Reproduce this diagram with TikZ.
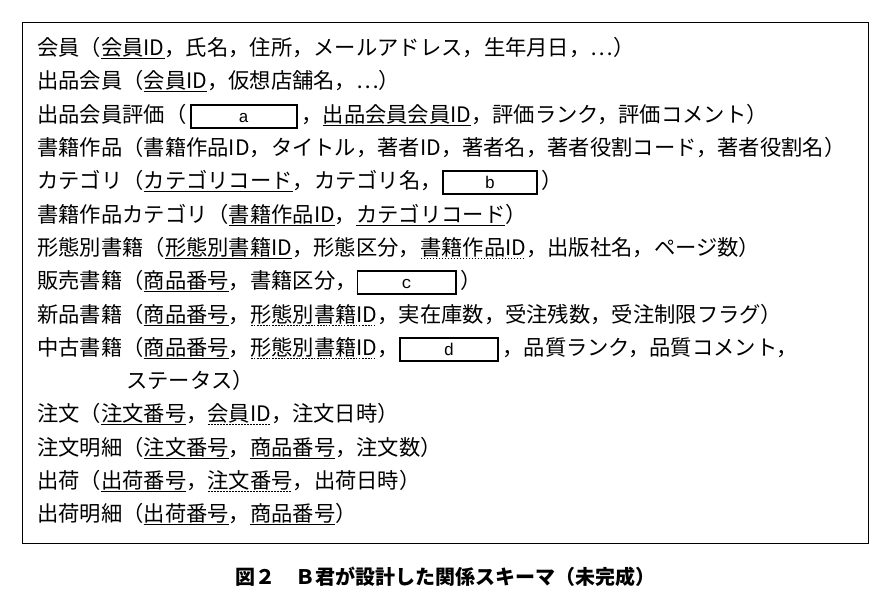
\documentclass[tikz,border=0pt]{standalone}
\usepackage{fontspec}
\setmainfont{Noto Sans CJK JP}
\newfontfamily\boxfont{Liberation Mono}
\newcommand\sul[1]{\setbox0\hbox{#1}\leavevmode\rlap{\copy0}\raisebox{-4pt}{\rule{\wd0}{1pt}}}
\newcommand\dul[1]{\setbox0\hbox{#1}\leavevmode\rlap{\copy0}\raisebox{-4pt}{\hbox to \wd0{\leaders\hbox to 3pt{\hss\rule{1.6pt}{1.1pt}\hss}\hfill}}}
\newcommand\blank[2]{{\fboxrule=1.8pt\fboxsep=0pt\framebox[#1pt]{\rule[-5pt]{0pt}{21pt}\boxfont\fontsize{17}{17}\selectfont #2}}}
\begin{document}
\begin{tikzpicture}[x=1pt,y=-1pt,line/.style={anchor=base west,inner sep=0,font=\fontsize{21.3}{23}\selectfont}]
\useasboundingbox (0,0) rectangle (892,600);
\draw[line width=1pt] (22,22) rectangle (868,543);
\node[line] (l1) at (37,55) {会員（\sul{会員ID}，氏名，住所，メールアドレス，生年月日，⋯）};
\node[line] (l2) at (37,88) {出品会員（\sul{会員ID}，仮想店舗名，⋯）};
\node[line] (l3) at (37,122) {出品会員評価（\,\blank{108}{a}\,，\sul{出品会員会員ID}，評価ランク，評価コメント）};
\node[line] (l4) at (37,155) {書籍作品（書籍作品ID，タイトル，著者ID，著者名，著者役割コード，著者役割名）};
\node[line] (l5) at (37,188) {カテゴリ（\sul{カテゴリコード}，カテゴリ名，\blank{96}{b}\,）};
\node[line] (l6) at (37,222) {書籍作品カテゴリ（\sul{書籍作品ID}，\sul{カテゴリコード}）};
\node[line] (l7) at (37,255) {形態別書籍（\sul{形態別書籍ID}，形態区分，\dul{書籍作品ID}，出版社名，ページ数）};
\node[line] (l8) at (37,288) {販売書籍（\sul{商品番号}，書籍区分，\blank{100}{c}\,）};
\node[line] (l9) at (37,322) {新品書籍（\sul{商品番号}，\dul{形態別書籍ID}，実在庫数，受注残数，受注制限フラグ）};
\node[line] (l10) at (37,355) {中古書籍（\sul{商品番号}，\dul{形態別書籍ID}，\blank{100}{d}\,，品質ランク，品質コメント，};
\node[line] (l11) at (126,388) {ステータス）};
\node[line] (l12) at (37,421) {注文（\sul{注文番号}，\dul{会員ID}，注文日時）};
\node[line] (l13) at (37,455) {注文明細（\sul{注文番号}，\sul{商品番号}，注文数）};
\node[line] (l14) at (37,488) {出荷（\sul{出荷番号}，\dul{注文番号}，出荷日時）};
\node[line] (l15) at (37,521) {出荷明細（\sul{出荷番号}，\sul{商品番号}）};
\node[font=\fontsize{20}{22}\selectfont\bfseries] (cap) at (445,577) {図２　Ｂ君が設計した関係スキーマ（未完成）};
\end{tikzpicture}
\end{document}
